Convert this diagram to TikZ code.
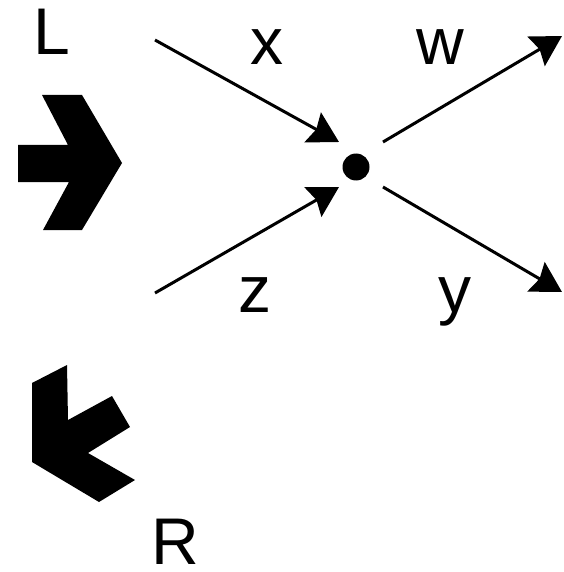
\documentclass[tikz,border=0pt]{standalone}
\usepackage{fontspec}
\setmainfont{Liberation Sans}
\usetikzlibrary{arrows.meta}

\begin{document}
\begin{tikzpicture}[x=1pt,y=-1pt,
  lbl/.style={inner sep=0,anchor=base,font=\fontsize{66}{70}\selectfont},
  flow/.style={line width=3pt,-{Stealth[length=30pt,width=34pt,inset=4pt]}}]
\useasboundingbox (0,0) rectangle (563,572);
% big chevrons
\fill (18,145) -- (68,145) -- (42,95) -- (82,95) -- (122,163) -- (82,230) -- (43,230) -- (69,182) -- (18,182) -- cycle;
\fill (32,383) -- (67,365) -- (68,420) -- (112,396) -- (130,427) -- (88,453) -- (135,480) -- (99,502) -- (32,462) -- cycle;
% hub and ends
\node[circle,fill,inner sep=0,minimum size=27pt] (hub) at (356,167) {};
\coordinate (xs) at (155,40);
\coordinate (xe) at (339,142);
\coordinate (zs) at (155,293);
\coordinate (ze) at (339,187);
\coordinate (ws) at (383,142);
\coordinate (we) at (562,36);
\coordinate (ys) at (383,187);
\coordinate (ye) at (562,292);
\draw[flow] (xs) -- (xe);
\draw[flow] (zs) -- (ze);
\draw[flow] (ws) -- (we);
\draw[flow] (ys) -- (ye);
% labels
\node[lbl] (lL) at (52,55) {L};
\node[lbl] (lR) at (175,564) {R};
\node[lbl] (lx) at (267,65) {x};
\node[lbl] (lw) at (440,65) {w};
\node[lbl] (lz) at (255,312) {z};
\node[lbl] (ly) at (455,312) {y};
\end{tikzpicture}
\end{document}
